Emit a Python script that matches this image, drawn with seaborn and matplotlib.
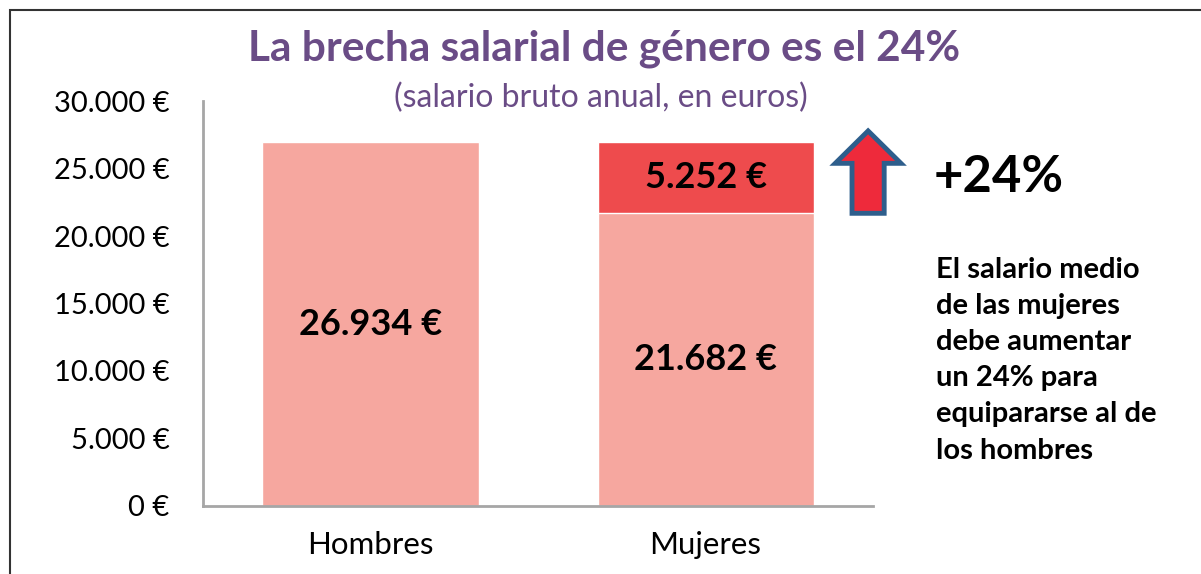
import matplotlib
matplotlib.use("Agg")
import matplotlib.pyplot as plt
from matplotlib.patches import Polygon, Rectangle
import seaborn as sns

categorias = ["Hombres", "Mujeres"]
salario_base = [26934, 21682]
brecha = [0, 5252]
totales = [b + g for b, g in zip(salario_base, brecha)]
yticks = [0, 5000, 10000, 15000, 20000, 25000, 30000]
nota = ["El salario medio", "de las mujeres", "debe aumentar",
        "un 24% para", "equipararse al de", "los hombres"]

color_base = "#F6A79F"
color_brecha = "#EE4B4D"
morado = "#6A4C86"


def euros(v):
    return "{:,.0f} €".format(v).replace(",", ".")


sns.set_theme(style="white")
plt.rcParams["font.family"] = ["Lato", "DejaVu Sans"]

fig = plt.figure(figsize=(12.01, 5.74), dpi=100)
ax = fig.add_axes([0.169, 0.1185, 0.558, 0.7055])

# total first (red on top for Mujeres), then the base salary on top of it
sns.barplot(x=categorias, y=totales, hue=categorias, palette=[color_base, color_brecha],
            width=0.645, saturation=1, legend=False, ax=ax)
sns.barplot(x=categorias, y=salario_base, color=color_base,
            width=0.645, saturation=1, ax=ax)

ax.set_ylim(0, 30000)
ax.set_xlim(-0.5, 1.5)
ax.set_yticks(yticks)
ax.set_yticklabels([euros(v) for v in yticks])
ax.tick_params(axis="y", length=0, labelsize=21, colors="black", pad=24)
ax.tick_params(axis="x", length=0, labelsize=22.5, colors="black", pad=18)
for s in ["top", "right"]:
    ax.spines[s].set_visible(False)
for s in ["left", "bottom"]:
    ax.spines[s].set_color("#A6A6A6")
    ax.spines[s].set_linewidth(2)
ax.set_xlabel("")
ax.set_ylabel("")

# bar labels
for i, (b, g) in enumerate(zip(salario_base, brecha)):
    ax.text(i, b / 2, euros(b), ha="center", va="center",
            fontsize=26, fontweight="bold", color="black")
    if g:
        ax.text(i, b + g / 2, euros(g), ha="center", va="center",
                fontsize=26, fontweight="bold", color="black")

# up arrow next to the Mujeres bar
xc = 1.485
hw, sw = 0.098, 0.048
tail = salario_base[1]
tip = totales[1] + 850
base_head = tip - 2400
pts = [(xc - sw, tail), (xc + sw, tail), (xc + sw, base_head), (xc + hw, base_head),
       (xc, tip), (xc - hw, base_head), (xc - sw, base_head)]
ax.add_patch(Polygon(pts, closed=True, facecolor="#EE2A3B", edgecolor="#2E5E8C",
                     linewidth=3.5, clip_on=False, zorder=5))

pct = round(100 * brecha[1] / salario_base[1])
fig.text(0.777, 0.69, "+{}%".format(pct), fontsize=36.5, fontweight="bold",
         ha="left", va="center", color="black")
fig.text(0.779, 0.552, "\n".join(nota), fontsize=21, fontweight="bold",
         ha="left", va="top", color="black", linespacing=1.48)

fig.text(0.503, 0.915, "La brecha salarial de género es el 24%", fontsize=30.5,
         fontweight="bold", color=morado, ha="center", va="center")
fig.text(0.5, 0.829, "(salario bruto anual, en euros)", fontsize=23,
         color=morado, ha="center", va="center")

# frame
fig.add_artist(Rectangle((10 / 1201, -0.1), 1.2, 1 - 10 / 574 + 0.1,
                         transform=fig.transFigure, fill=False,
                         edgecolor="#333333", linewidth=1.5))

fig.savefig("out.png", dpi=100)
